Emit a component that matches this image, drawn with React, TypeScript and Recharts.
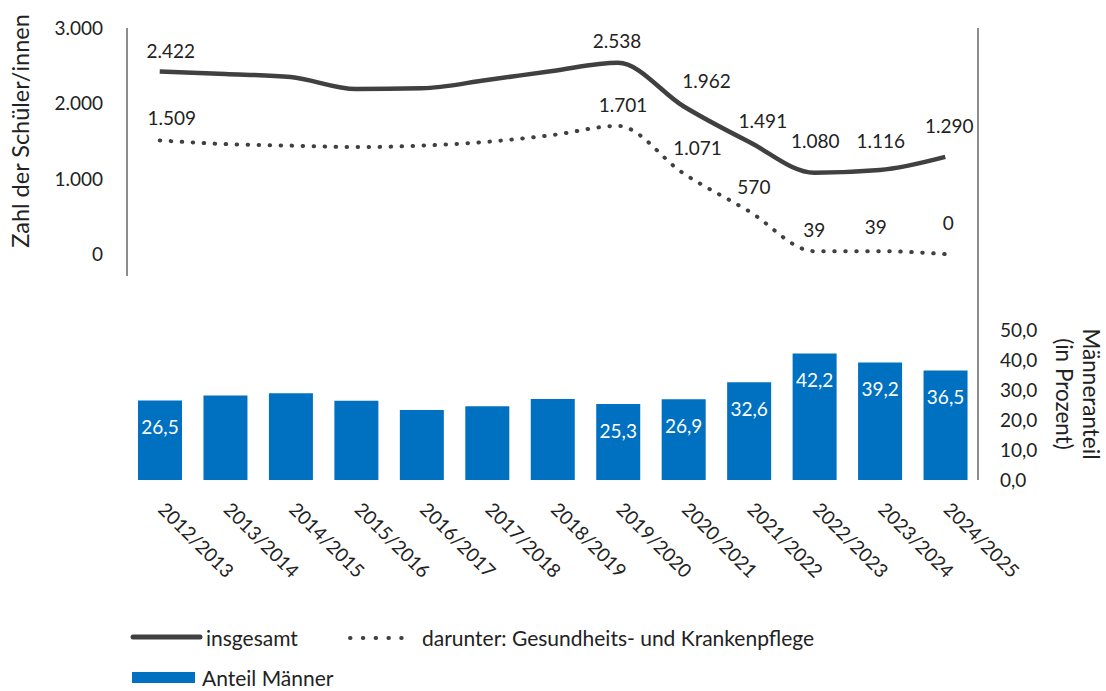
import { ComposedChart, Line, Bar, XAxis, YAxis, LabelList } from "recharts";

const years = [
  "2012/2013",
  "2013/2014",
  "2014/2015",
  "2015/2016",
  "2016/2017",
  "2017/2018",
  "2018/2019",
  "2019/2020",
  "2020/2021",
  "2021/2022",
  "2022/2023",
  "2023/2024",
  "2024/2025",
];
// Schüler/innen insgesamt (values between the labelled years)
const insgesamt = [2422, 2390, 2350, 2190, 2200, 2310, 2430, 2538, 1962, 1491, 1080, 1116, 1290];
// darunter: Gesundheits- und Krankenpflege
const pflege = [1509, 1460, 1440, 1420, 1440, 1490, 1580, 1701, 1071, 570, 39, 39, 0];
// Anteil Männer in %
const anteilMaenner = [26.5, 28.2, 28.9, 26.4, 23.3, 24.6, 27.0, 25.3, 26.9, 32.6, 42.2, 39.2, 36.5];
// years that carry data labels in the original
const labelledYears = [
  "2012/2013",
  "2019/2020",
  "2020/2021",
  "2021/2022",
  "2022/2023",
  "2023/2024",
  "2024/2025",
];
const zahlTicks = [0, 1000, 2000, 3000];
const prozentTicks = [0, 10, 20, 30, 40, 50];

const data = years.map((year, i) => ({
  year,
  insgesamt: insgesamt[i],
  pflege: pflege[i],
  anteil: anteilMaenner[i],
}));
const labelled = new Set(labelledYears);

// label nudges (dx, dy from the point), like the hand-placed Excel labels
const totalShift: Record<number, number[]> = {
  0: [11, -21],
  7: [-1, -22],
  8: [23, -26],
  9: [14, -21],
  10: [1, -32],
  11: [1, -30],
  12: [4, -31],
};
const pflegeShift: Record<number, number[]> = {
  0: [12, -23],
  7: [5, -21],
  8: [14, -26],
  9: [5, -25],
  10: [0, -22],
  11: [-4, -25],
  12: [3, -32],
};

const TEXT = "#222";
const LINE = "#404040";
const AXIS = "#666";
const BLUE = "#0070C0";

const fmtInt = (v: number) => String(v).replace(/\B(?=(\d{3})+(?!\d))/g, ".");
const fmtDec = (v: number) => Number(v).toFixed(1).replace(".", ",");

const lineLabel = (shift: Record<number, number[]>) => (props: any) => {
  const { x, y, value, index } = props;
  const s = shift[index];
  if (!s || !labelled.has(years[index])) return null;
  return (
    <text
      x={Number(x) + s[0]}
      y={Number(y) + s[1]}
      textAnchor="middle"
      dominantBaseline="central"
      fontSize={19}
      fill={TEXT}
    >
      {fmtInt(value)}
    </text>
  );
};

const barLabel = (props: any) => {
  const { x, y, width, value, index } = props;
  if (!labelled.has(years[index])) return null;
  return (
    <text
      x={Number(x) + Number(width) / 2}
      y={Number(y) + 26}
      textAnchor="middle"
      dominantBaseline="central"
      fontSize={19}
      fill="#fff"
    >
      {fmtDec(value)}
    </text>
  );
};

const YearTick = ({ x, y, payload }: any) => (
  <g transform={`translate(${x + 2},${y})`}>
    <text transform="rotate(45)" textAnchor="start" dy="0.35em" fontSize={19} fill={TEXT}>
      {payload.value}
    </text>
  </g>
);

const LeftTitle = ({ viewBox }: any) => {
  const cy = viewBox.y + viewBox.height / 2 - 21;
  return (
    <text
      transform={`translate(${viewBox.x + 20},${cy}) rotate(-90)`}
      textAnchor="middle"
      dominantBaseline="central"
      fontSize={23.5}
      fill={TEXT}
    >
      Zahl der Schüler/innen
    </text>
  );
};

const RightTitle = ({ viewBox }: any) => {
  const cy = viewBox.y + viewBox.height / 2 + 16;
  return (
    <g>
      <text
        transform={`translate(${viewBox.x + 86},${cy}) rotate(90)`}
        textAnchor="middle"
        dominantBaseline="central"
        fontSize={22.5}
        fill={TEXT}
      >
        (in Prozent)
      </text>
      <text
        transform={`translate(${viewBox.x + 113},${cy}) rotate(90)`}
        textAnchor="middle"
        dominantBaseline="central"
        fontSize={22.5}
        fill={TEXT}
      >
        Männeranteil
      </text>
    </g>
  );
};

function Legend() {
  return (
    <svg width={1106} height={691} style={{ position: "absolute", left: 0, top: 0 }}>
      <line x1={133} x2={200} y1={637} y2={637} stroke={LINE} strokeWidth={5} strokeLinecap="round" />
      <text x={206} y={637} dominantBaseline="central" fontSize={21} fill={TEXT}>
        insgesamt
      </text>
      <line
        x1={350}
        x2={414}
        y1={638}
        y2={638}
        stroke={LINE}
        strokeWidth={4}
        strokeLinecap="round"
        strokeDasharray="0.5 12.3"
      />
      <text x={422} y={637} dominantBaseline="central" fontSize={21} fill={TEXT}>
        darunter: Gesundheits- und Krankenpflege
      </text>
      <rect x={132} y={672} width={63} height={11} fill={BLUE} />
      <text x={202} y={677} dominantBaseline="central" fontSize={21} fill={TEXT}>
        Anteil Männer
      </text>
    </svg>
  );
}

export default function App() {
  return (
    <div
      style={{
        position: "fixed",
        left: 0,
        top: 0,
        width: 1106,
        height: 691,
        overflow: "hidden",
        background: "#fff",
        fontFamily: "Lato, sans-serif",
      }}
    >
      <div style={{ position: "absolute", left: 0, top: 0 }}>
        <ComposedChart
          width={1106}
          height={276}
          data={data}
          margin={{ top: 28, right: 58, left: 0, bottom: 0 }}
        >
          <XAxis dataKey="year" hide scale="band" padding={{ left: 0, right: 0 }} />
          <YAxis
            yAxisId="l"
            width={127}
            domain={[-290, 3000]}
            ticks={zahlTicks}
            allowDataOverflow
            tickFormatter={fmtInt}
            tickLine={false}
            tickSize={0}
            tickMargin={24}
            tick={{ fill: TEXT, fontSize: 19 }}
            axisLine={{ stroke: AXIS, strokeWidth: 1.5 }}
            label={<LeftTitle />}
          />
          <YAxis
            yAxisId="r"
            orientation="right"
            width={70}
            domain={[0, 1]}
            tick={false}
            tickLine={false}
            axisLine={{ stroke: AXIS, strokeWidth: 1.5 }}
          />
          <Line
            yAxisId="l"
            type="monotone"
            dataKey="insgesamt"
            stroke={LINE}
            strokeWidth={4.5}
            dot={false}
            isAnimationActive={false}
          >
            <LabelList dataKey="insgesamt" content={lineLabel(totalShift)} />
          </Line>
          <Line
            yAxisId="l"
            type="monotone"
            dataKey="pflege"
            stroke={LINE}
            strokeWidth={4}
            strokeLinecap="round"
            strokeDasharray="0.5 10.5"
            dot={false}
            isAnimationActive={false}
          >
            <LabelList dataKey="pflege" content={lineLabel(pflegeShift)} />
          </Line>
        </ComposedChart>
      </div>
      <div style={{ position: "absolute", left: 0, top: 276 }}>
        <ComposedChart
          width={1106}
          height={334}
          data={data}
          margin={{ top: 0, right: 58, left: 127, bottom: 0 }}
        >
          <XAxis
            dataKey="year"
            interval={0}
            height={130}
            tickLine={false}
            axisLine={false}
            tickSize={0}
            tickMargin={26}
            tick={<YearTick />}
            padding={{ left: 0, right: 0 }}
          />
          <YAxis
            yAxisId="r"
            orientation="right"
            width={70}
            domain={[0, 68]}
            ticks={prozentTicks}
            allowDataOverflow
            tickFormatter={fmtDec}
            tickLine={false}
            tickSize={0}
            tickMargin={22}
            tick={{ fill: TEXT, fontSize: 19 }}
            axisLine={{ stroke: AXIS, strokeWidth: 1.5 }}
            label={<RightTitle />}
          />
          <Bar yAxisId="r" dataKey="anteil" fill={BLUE} barSize={44} isAnimationActive={false}>
            <LabelList dataKey="anteil" content={barLabel} />
          </Bar>
        </ComposedChart>
      </div>
      <Legend />
    </div>
  );
}
